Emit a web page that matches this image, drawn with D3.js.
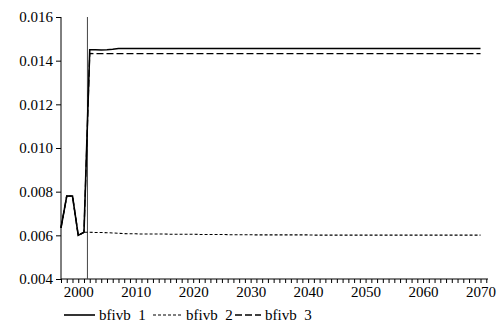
<!DOCTYPE html>
<html lang="en">
<head>
    <meta charset="UTF-8">
    <title>bfivb</title>
    <script src="https://d3js.org/d3.v7.min.js"></script>
    <style>
        body {
            margin: 0;
            padding: 0;
            background-color: #fff;
        }
        svg text {
            font-family: 'Liberation Serif';
            font-size: 15px;
            fill: #000;
        }
    </style>
</head>
<body>
    <svg id="chart" width="500" height="322"></svg>

    <script>
        // Years 1997..2070
        const years = d3.range(1997, 2071);

        const bfivb1 = [
            0.00634, 0.00780, 0.00780, 0.00600, 0.00614,
            0.01450, 0.01450, 0.01449, 0.01450, 0.01452, 0.01456, 0.01456, 0.01456, 0.01456,
            0.01456, 0.01456, 0.01456, 0.01456, 0.01456, 0.01456, 0.01456, 0.01456, 0.01456, 0.01456,
            0.01456, 0.01456, 0.01456, 0.01456, 0.01456, 0.01456, 0.01456, 0.01456, 0.01456, 0.01456,
            0.01456, 0.01456, 0.01456, 0.01456, 0.01456, 0.01456, 0.01456, 0.01456, 0.01456, 0.01456,
            0.01456, 0.01456, 0.01456, 0.01456, 0.01456, 0.01456, 0.01456, 0.01456, 0.01456, 0.01456,
            0.01456, 0.01456, 0.01456, 0.01456, 0.01456, 0.01456, 0.01456, 0.01456, 0.01456, 0.01456,
            0.01456, 0.01456, 0.01456, 0.01456, 0.01456, 0.01456, 0.01456, 0.01456, 0.01456, 0.01456
        ];

        const bfivb2 = [
            0.00634, 0.00780, 0.00780, 0.00600, 0.00614,
            0.00614, 0.00613, 0.00613, 0.00612, 0.00611, 0.00609, 0.00608, 0.00607, 0.00607,
            0.00606, 0.00606, 0.00606, 0.00606, 0.00606, 0.00605, 0.00605, 0.00605, 0.00605, 0.00605,
            0.00604, 0.00604, 0.00604, 0.00604, 0.00604, 0.00603, 0.00603, 0.00603, 0.00603, 0.00603,
            0.00602, 0.00602, 0.00602, 0.00602, 0.00602, 0.00602, 0.00602, 0.00602, 0.00602, 0.00602,
            0.00601, 0.00601, 0.00601, 0.00601, 0.00601, 0.00601, 0.00601, 0.00601, 0.00601, 0.00601,
            0.00601, 0.00601, 0.00601, 0.00601, 0.00601, 0.00601, 0.00601, 0.00601, 0.00601, 0.00601,
            0.00601, 0.00601, 0.00601, 0.00601, 0.00601, 0.00601, 0.00601, 0.00601, 0.00601, 0.00601
        ];

        const bfivb3 = [
            0.00634, 0.00780, 0.00780, 0.00600, 0.00614,
            0.01433, 0.01432, 0.01432, 0.01432, 0.01432, 0.01432, 0.01432, 0.01432, 0.01432,
            0.01432, 0.01432, 0.01432, 0.01432, 0.01432, 0.01432, 0.01432, 0.01432, 0.01432, 0.01432,
            0.01432, 0.01432, 0.01432, 0.01432, 0.01432, 0.01432, 0.01432, 0.01432, 0.01432, 0.01432,
            0.01432, 0.01432, 0.01432, 0.01432, 0.01432, 0.01432, 0.01432, 0.01432, 0.01432, 0.01432,
            0.01432, 0.01432, 0.01432, 0.01432, 0.01432, 0.01432, 0.01432, 0.01432, 0.01432, 0.01432,
            0.01432, 0.01432, 0.01432, 0.01432, 0.01432, 0.01432, 0.01432, 0.01432, 0.01432, 0.01432,
            0.01432, 0.01432, 0.01432, 0.01432, 0.01432, 0.01432, 0.01432, 0.01432, 0.01432, 0.01432
        ];

        const yTicks = [0.004, 0.006, 0.008, 0.010, 0.012, 0.014, 0.016];
        const xLabels = [2000, 2010, 2020, 2030, 2040, 2050, 2060, 2070];
        const legendLabels = ['bfivb  1', 'bfivb  2', 'bfivb  3'];
        const markerYear = 2001.6; // vertical reference line

        const series = [
            { name: legendLabels[0], values: bfivb1, dash: null, width: 1.6 },
            { name: legendLabels[1], values: bfivb2, dash: '3,2', width: 1.1 },
            { name: legendLabels[2], values: bfivb3, dash: '7,3', width: 1.3 }
        ];

        const svg = d3.select('#chart');
        const fontFamily = 'Liberation Serif';

        const x = d3.scaleLinear().domain([1997, 2071.3]).range([61, 488]);
        const y = d3.scaleLinear().domain([0.004, 0.016]).range([279, 17]);

        // y axis
        const yAxis = svg.append('g')
            .attr('transform', `translate(${x(1997)},0)`)
            .call(d3.axisLeft(y).tickValues(yTicks).tickFormat(d3.format('.3f')).tickSize(5).tickPadding(3))
            .attr('font-family', fontFamily)
            .attr('font-size', 15);
        yAxis.select('.domain').attr('stroke', '#000').attr('d', `M0,${y(0.016)}V${y(0.004)}`);
        yAxis.selectAll('.tick line').attr('stroke', '#000');

        // x axis: a small tick each year, labels every decade
        const xAxis = svg.append('g')
            .attr('transform', `translate(0,${y(0.004)})`)
            .call(d3.axisBottom(x)
                .tickValues(d3.range(1997, 2072))
                .tickSize(4)
                .tickPadding(3)
                .tickFormat(d => xLabels.includes(d) ? d : ''))
            .attr('font-family', fontFamily)
            .attr('font-size', 15);
        xAxis.select('.domain').attr('stroke', '#000').attr('d', `M${x(1997)},0H${x(2071.3)}`);
        xAxis.selectAll('.tick line').attr('stroke', '#000');

        // vertical reference line
        svg.append('line')
            .attr('x1', x(markerYear)).attr('x2', x(markerYear))
            .attr('y1', y(0.016)).attr('y2', y(0.004))
            .attr('stroke', '#444')
            .attr('stroke-width', 1);

        const line = d3.line()
            .x((d, i) => x(years[i]))
            .y(d => y(d));

        // draw dashed series first, solid on top of history
        [series[2], series[1], series[0]].forEach(s => {
            svg.append('path')
                .datum(s.values)
                .attr('d', line)
                .attr('fill', 'none')
                .attr('stroke', '#000')
                .attr('stroke-width', s.width)
                .attr('stroke-dasharray', s.dash);
        });

        // legend
        const legendY = 315;
        const legendItems = [
            { lx: 64, tx: 99 },
            { lx: 153, tx: 186 },
            { lx: 235, tx: 265 }
        ];
        series.forEach((s, i) => {
            const it = legendItems[i];
            svg.append('line')
                .attr('x1', it.lx).attr('x2', it.tx - 4)
                .attr('y1', legendY).attr('y2', legendY)
                .attr('stroke', '#000')
                .attr('stroke-width', s.width)
                .attr('stroke-dasharray', s.dash);
            svg.append('text')
                .attr('x', it.tx)
                .attr('y', legendY + 5)
                .attr('font-family', fontFamily)
                .style('white-space', 'pre')
                .text(s.name);
        });
    </script>
</body>
</html>
